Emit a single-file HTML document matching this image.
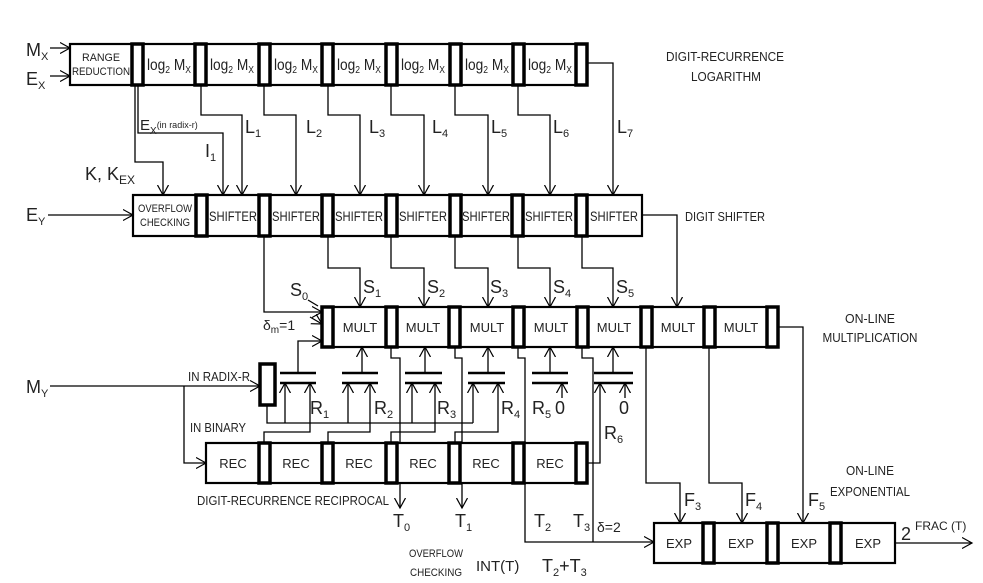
<!DOCTYPE html>
<html><head><meta charset="utf-8"><style>
html,body{margin:0;padding:0;background:#fff;}
svg{display:block;font-family:"Liberation Sans",sans-serif;}
.b{fill:#fff;stroke:#000;stroke-width:2.2}
.r{fill:#fff;stroke:#000;stroke-width:3.5}
.l{fill:none;stroke:#000;stroke-width:1.3}
.p{fill:none;stroke:#000;stroke-width:2.5}
.c{font-size:13px;fill:#222;}
.s{font-size:11px;fill:#222;}
.big{font-size:18px;fill:#222;}
</style></head><body>
<svg width="983" height="583" viewBox="0 0 983 583" xmlns="http://www.w3.org/2000/svg">
<defs><marker id="a" markerWidth="12" markerHeight="12" refX="10" refY="6" orient="auto" markerUnits="userSpaceOnUse"><path d="M0,0.5 L10,6 L0,11.5" fill="none" stroke="#000" stroke-width="1.2"/></marker></defs>

<!-- Row 1 -->
<rect class="b" x="70" y="44" width="517" height="41"/>
<g class="r"><rect x="132" y="44" width="11" height="41"/><rect x="195" y="44" width="11" height="41"/><rect x="259" y="44" width="11" height="41"/><rect x="322" y="44" width="11" height="41"/><rect x="386" y="44" width="11" height="41"/><rect x="450" y="44" width="11" height="41"/><rect x="513" y="44" width="11" height="41"/><rect x="576" y="44" width="11" height="41"/></g>
<text class="s" x="101" y="61" text-anchor="middle" textLength="38" lengthAdjust="spacingAndGlyphs">RANGE</text>
<text class="s" x="101" y="75" text-anchor="middle" textLength="58" lengthAdjust="spacingAndGlyphs">REDUCTION</text>
<g class="c" style="font-size:16px">
<text x="147" y="70" textLength="44" lengthAdjust="spacingAndGlyphs">log<tspan font-size="10" dy="3">2</tspan><tspan dy="-3"> M</tspan><tspan font-size="10" dy="3">X</tspan></text>
<text x="210" y="70" textLength="44" lengthAdjust="spacingAndGlyphs">log<tspan font-size="10" dy="3">2</tspan><tspan dy="-3"> M</tspan><tspan font-size="10" dy="3">X</tspan></text>
<text x="274" y="70" textLength="44" lengthAdjust="spacingAndGlyphs">log<tspan font-size="10" dy="3">2</tspan><tspan dy="-3"> M</tspan><tspan font-size="10" dy="3">X</tspan></text>
<text x="337" y="70" textLength="44" lengthAdjust="spacingAndGlyphs">log<tspan font-size="10" dy="3">2</tspan><tspan dy="-3"> M</tspan><tspan font-size="10" dy="3">X</tspan></text>
<text x="401" y="70" textLength="44" lengthAdjust="spacingAndGlyphs">log<tspan font-size="10" dy="3">2</tspan><tspan dy="-3"> M</tspan><tspan font-size="10" dy="3">X</tspan></text>
<text x="465" y="70" textLength="44" lengthAdjust="spacingAndGlyphs">log<tspan font-size="10" dy="3">2</tspan><tspan dy="-3"> M</tspan><tspan font-size="10" dy="3">X</tspan></text>
<text x="528" y="70" textLength="44" lengthAdjust="spacingAndGlyphs">log<tspan font-size="10" dy="3">2</tspan><tspan dy="-3"> M</tspan><tspan font-size="10" dy="3">X</tspan></text>
</g>
<text class="big" x="26" y="56">M<tspan font-size="11" dy="4">X</tspan></text>
<text class="big" x="26" y="85">E<tspan font-size="11" dy="4">X</tspan></text>
<path class="l" d="M50,48 H70" marker-end="url(#a)"/>
<path class="l" d="M50,76 H70" marker-end="url(#a)"/>
<text class="c" x="725" y="61" text-anchor="middle" textLength="118" lengthAdjust="spacingAndGlyphs">DIGIT-RECURRENCE</text>
<text class="c" x="726" y="81" text-anchor="middle" textLength="70" lengthAdjust="spacingAndGlyphs">LOGARITHM</text>

<!-- connectors row1 -> row2 -->
<g class="l">
<path d="M135,85 V162 H163 V195" marker-end="url(#a)"/>
<path d="M138,85 V133 H223 V195" marker-end="url(#a)"/>
<path d="M201,85 V115 H242 V195" marker-end="url(#a)"/>
<path d="M264,85 V115 H296 V195" marker-end="url(#a)"/>
<path d="M328,85 V115 H360 V195" marker-end="url(#a)"/>
<path d="M391,85 V115 H424 V195" marker-end="url(#a)"/>
<path d="M455,85 V115 H488 V195" marker-end="url(#a)"/>
<path d="M518,85 V115 H550 V195" marker-end="url(#a)"/>
<path d="M587,63 H613 V195" marker-end="url(#a)"/>
</g>
<text class="big" x="140" y="130" style="font-size:15px">E<tspan font-size="10" dy="4">X</tspan><tspan font-size="9" dy="-6">(in radix-r)</tspan></text>
<text class="big" x="205" y="157">I<tspan font-size="11" dy="4">1</tspan></text>
<g class="big">
<text x="245" y="133">L<tspan font-size="11" dy="4">1</tspan></text>
<text x="306" y="133">L<tspan font-size="11" dy="4">2</tspan></text>
<text x="369" y="133">L<tspan font-size="11" dy="4">3</tspan></text>
<text x="432" y="133">L<tspan font-size="11" dy="4">4</tspan></text>
<text x="491" y="133">L<tspan font-size="11" dy="4">5</tspan></text>
<text x="553" y="133">L<tspan font-size="11" dy="4">6</tspan></text>
<text x="617" y="133">L<tspan font-size="11" dy="4">7</tspan></text>
</g>
<text class="big" x="85" y="180">K, K<tspan font-size="12" dy="4">EX</tspan></text>

<!-- Row 2 -->
<rect class="b" x="133" y="195" width="509" height="41"/>
<g class="r"><rect x="196" y="195" width="11" height="41"/><rect x="259" y="195" width="11" height="41"/><rect x="322" y="195" width="11" height="41"/><rect x="386" y="195" width="11" height="41"/><rect x="450" y="195" width="11" height="41"/><rect x="512" y="195" width="11" height="41"/><rect x="576" y="195" width="11" height="41"/></g>
<text class="s" x="165" y="212" text-anchor="middle" textLength="54" lengthAdjust="spacingAndGlyphs">OVERFLOW</text>
<text class="s" x="165" y="226" text-anchor="middle" textLength="50" lengthAdjust="spacingAndGlyphs">CHECKING</text>
<g class="c" text-anchor="middle" style="font-size:14px">
<text x="233" y="221" textLength="48" lengthAdjust="spacingAndGlyphs">SHIFTER</text>
<text x="296" y="221" textLength="48" lengthAdjust="spacingAndGlyphs">SHIFTER</text>
<text x="359" y="221" textLength="48" lengthAdjust="spacingAndGlyphs">SHIFTER</text>
<text x="423" y="221" textLength="48" lengthAdjust="spacingAndGlyphs">SHIFTER</text>
<text x="486" y="221" textLength="48" lengthAdjust="spacingAndGlyphs">SHIFTER</text>
<text x="549" y="221" textLength="48" lengthAdjust="spacingAndGlyphs">SHIFTER</text>
<text x="614" y="221" textLength="48" lengthAdjust="spacingAndGlyphs">SHIFTER</text>
</g>
<text class="big" x="26" y="221">E<tspan font-size="11" dy="4">Y</tspan></text>
<path class="l" d="M48,215 H133" marker-end="url(#a)"/>
<text class="c" x="685" y="221" textLength="80" lengthAdjust="spacingAndGlyphs">DIGIT SHIFTER</text>

<!-- row2 -> row3 -->
<g class="l">
<path d="M264,236 V312 H322" marker-end="url(#a)"/>
<path d="M328,236 V268 H360 V307" marker-end="url(#a)"/>
<path d="M391,236 V268 H424 V307" marker-end="url(#a)"/>
<path d="M455,236 V268 H488 V307" marker-end="url(#a)"/>
<path d="M518,236 V268 H550 V307" marker-end="url(#a)"/>
<path d="M582,236 V268 H613 V307" marker-end="url(#a)"/>
<path d="M642,215 H677 V307" marker-end="url(#a)"/>
<path d="M308,300 L318,306"/>
<path d="M310,317 L322,324" marker-end="url(#a)"/>
</g>
<g class="big">
<text x="290" y="296">S<tspan font-size="11" dy="4">0</tspan></text>
<text x="363" y="293">S<tspan font-size="11" dy="4">1</tspan></text>
<text x="427" y="293">S<tspan font-size="11" dy="4">2</tspan></text>
<text x="490" y="293">S<tspan font-size="11" dy="4">3</tspan></text>
<text x="553" y="293">S<tspan font-size="11" dy="4">4</tspan></text>
<text x="616" y="293">S<tspan font-size="11" dy="4">5</tspan></text>
</g>
<text x="263" y="330" style="font-size:14px;fill:#222">δ<tspan font-size="10" dy="3">m</tspan><tspan dy="-3">=1</tspan></text>

<!-- Row 3 -->
<rect class="b" x="322" y="307" width="456" height="40"/>
<g class="r"><rect x="322" y="307" width="11" height="40"/><rect x="386" y="307" width="11" height="40"/><rect x="449" y="307" width="11" height="40"/><rect x="513" y="307" width="11" height="40"/><rect x="577" y="307" width="11" height="40"/><rect x="641" y="307" width="11" height="40"/><rect x="704" y="307" width="11" height="40"/><rect x="767" y="307" width="11" height="40"/></g>
<g class="c" text-anchor="middle">
<text x="360" y="332">MULT</text><text x="423" y="332">MULT</text><text x="487" y="332">MULT</text><text x="551" y="332">MULT</text><text x="614" y="332">MULT</text><text x="678" y="332">MULT</text><text x="741" y="332">MULT</text>
</g>
<text class="c" x="870" y="323" text-anchor="middle" textLength="50" lengthAdjust="spacingAndGlyphs">ON-LINE</text>
<text class="c" x="870" y="342" text-anchor="middle" textLength="95" lengthAdjust="spacingAndGlyphs">MULTIPLICATION</text>

<!-- plates -->
<g class="p">
<path d="M280,373 H316 M280,383 H316"/>
<path d="M342,373 H378 M342,383 H378"/>
<path d="M405,373 H442 M405,383 H442"/>
<path d="M468,373 H505 M468,383 H505"/>
<path d="M532,373 H568 M532,383 H568"/>
<path d="M594,373 H633 M594,383 H633"/>
</g>
<g class="l">
<path d="M298,373 V341 H322" marker-end="url(#a)"/>
<path d="M362,373 V347" marker-end="url(#a)"/>
<path d="M425,373 V347" marker-end="url(#a)"/>
<path d="M488,373 V347" marker-end="url(#a)"/>
<path d="M550,373 V347" marker-end="url(#a)"/>
<path d="M613,373 V347" marker-end="url(#a)"/>
<path d="M267,405 V423 H473"/>
<path d="M285,423 V383" marker-end="url(#a)"/>
<path d="M348,423 V383" marker-end="url(#a)"/>
<path d="M412,423 V383" marker-end="url(#a)"/>
<path d="M473,423 V383" marker-end="url(#a)"/>
<path d="M264,443 V432 H310 V383" marker-end="url(#a)"/>
<path d="M328,443 V432 H370 V383" marker-end="url(#a)"/>
<path d="M391,443 V432 H435 V383" marker-end="url(#a)"/>
<path d="M455,443 V432 H498 V383" marker-end="url(#a)"/>
<path d="M562,398 V383" marker-end="url(#a)"/>
<path d="M625,398 V383" marker-end="url(#a)"/>
<path d="M587,463 H600 V383" marker-end="url(#a)"/>
<path d="M391,347 V358 H400 V508" marker-end="url(#a)"/>
<path d="M455,347 V358 H462 V508" marker-end="url(#a)"/>
<path d="M518,347 V358 H525 V542 H654" marker-end="url(#a)"/>
<path d="M582,347 V358 H593 V542"/>
<path d="M646,347 V483 H680 V523" marker-end="url(#a)"/>
<path d="M709,347 V483 H742 V523" marker-end="url(#a)"/>
<path d="M778,327 H803 V523" marker-end="url(#a)"/>
<path d="M50,386 H260" marker-end="url(#a)"/>
<path d="M184,386 V463 H206" marker-end="url(#a)"/>
<path d="M895,543 H972" marker-end="url(#a)"/>
</g>
<rect x="260" y="364" width="15" height="41" fill="#fff" stroke="#000" stroke-width="3.5"/>
<text class="big" x="26" y="393">M<tspan font-size="11" dy="4">Y</tspan></text>
<text class="c" x="188" y="381" textLength="62" lengthAdjust="spacingAndGlyphs">IN RADIX-R</text>
<text class="c" x="190" y="432" textLength="56" lengthAdjust="spacingAndGlyphs">IN BINARY</text>
<g class="big">
<text x="310" y="414">R<tspan font-size="11" dy="4">1</tspan></text>
<text x="374" y="414">R<tspan font-size="11" dy="4">2</tspan></text>
<text x="437" y="414">R<tspan font-size="11" dy="4">3</tspan></text>
<text x="501" y="414">R<tspan font-size="11" dy="4">4</tspan></text>
<text x="532" y="414">R<tspan font-size="11" dy="4">5</tspan></text>
<text x="555" y="414">0</text>
<text x="619" y="414">0</text>
<text x="604" y="439">R<tspan font-size="11" dy="4">6</tspan></text>
</g>

<!-- Row 5 -->
<rect class="b" x="206" y="443" width="381" height="40"/>
<g class="r"><rect x="259" y="443" width="11" height="40"/><rect x="322" y="443" width="11" height="40"/><rect x="386" y="443" width="11" height="40"/><rect x="449" y="443" width="11" height="40"/><rect x="513" y="443" width="11" height="40"/><rect x="576" y="443" width="11" height="40"/></g>
<g class="c" text-anchor="middle">
<text x="233" y="468">REC</text><text x="296" y="468">REC</text><text x="359" y="468">REC</text><text x="423" y="468">REC</text><text x="486" y="468">REC</text><text x="550" y="468">REC</text>
</g>
<text class="c" x="197" y="505" textLength="192" lengthAdjust="spacingAndGlyphs">DIGIT-RECURRENCE RECIPROCAL</text>
<g class="big">
<text x="393" y="527">T<tspan font-size="11" dy="4">0</tspan></text>
<text x="455" y="527">T<tspan font-size="11" dy="4">1</tspan></text>
<text x="534" y="527">T<tspan font-size="11" dy="4">2</tspan></text>
<text x="573" y="527">T<tspan font-size="11" dy="4">3</tspan></text>
<text x="476" y="571" style="font-size:15px">INT(T)</text>
<text x="542" y="572">T<tspan font-size="11" dy="4">2</tspan><tspan dy="-4">+T</tspan><tspan font-size="11" dy="4">3</tspan></text>
<text x="684" y="506">F<tspan font-size="11" dy="4">3</tspan></text>
<text x="745" y="506">F<tspan font-size="11" dy="4">4</tspan></text>
<text x="808" y="506">F<tspan font-size="11" dy="4">5</tspan></text>
<text x="901" y="540">2</text>
</g>
<text x="597" y="532" style="font-size:14px;fill:#222">δ=2</text>
<text class="s" x="915" y="530" style="font-size:12px">FRAC (T)</text>
<text class="s" x="409" y="557" textLength="54" lengthAdjust="spacingAndGlyphs">OVERFLOW</text>
<text class="s" x="410" y="576" textLength="52" lengthAdjust="spacingAndGlyphs">CHECKING</text>

<!-- Row 6 -->
<rect class="b" x="654" y="523" width="241" height="40"/>
<g class="r"><rect x="703" y="523" width="11" height="40"/><rect x="767" y="523" width="11" height="40"/><rect x="830" y="523" width="11" height="40"/></g>
<g class="c" text-anchor="middle">
<text x="679" y="548">EXP</text><text x="741" y="548">EXP</text><text x="804" y="548">EXP</text><text x="868" y="548">EXP</text>
</g>
<text class="c" x="870" y="475" text-anchor="middle" textLength="48" lengthAdjust="spacingAndGlyphs">ON-LINE</text>
<text class="c" x="870" y="496" text-anchor="middle" textLength="80" lengthAdjust="spacingAndGlyphs">EXPONENTIAL</text>
</svg>
</body></html>
